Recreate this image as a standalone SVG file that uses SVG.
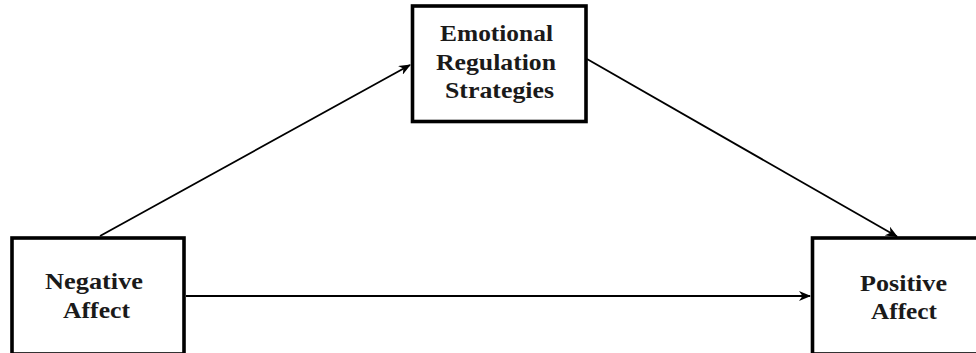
<svg xmlns="http://www.w3.org/2000/svg" width="976" height="353" viewBox="0 0 976 353">
<style>
.box{fill:#fff;stroke:#000;stroke-width:3.6}
.lbl{font-family:"Liberation Serif","Times New Roman",serif;font-weight:bold;font-size:23px;fill:#1a1a1a}
.edge{stroke:#000;stroke-width:1.8;fill:none}
</style>
<defs>
<marker id="arr" viewBox="0 0 12 10" refX="11" refY="5" markerWidth="12" markerHeight="10" markerUnits="userSpaceOnUse" orient="auto">
<path d="M0,0 L12,5 L0,10 L3.5,5 z" fill="#000"/>
</marker>
</defs>
<rect width="976" height="353" fill="#fff"/>
<g id="connectors">
<line class="edge" x1="100" y1="236" x2="410" y2="65" marker-end="url(#arr)"/>
<line class="edge" x1="587" y1="59" x2="897" y2="236.5" marker-end="url(#arr)"/>
<line class="edge" x1="186" y1="296" x2="810" y2="296" marker-end="url(#arr)"/>
</g>
<g id="node-emotional">
<rect class="box" x="412.5" y="6" width="173.5" height="115.5"/>
<text class="lbl" x="496.5" y="40.5" text-anchor="middle" textLength="113" lengthAdjust="spacingAndGlyphs">Emotional</text>
<text class="lbl" x="496" y="69.5" text-anchor="middle" textLength="120" lengthAdjust="spacingAndGlyphs">Regulation</text>
<text class="lbl" x="499.5" y="98" text-anchor="middle" textLength="109" lengthAdjust="spacingAndGlyphs">Strategies</text>
</g>
<g id="node-negative">
<rect class="box" x="12" y="238" width="172" height="116"/>
<text class="lbl" x="94" y="289" text-anchor="middle" textLength="98" lengthAdjust="spacingAndGlyphs">Negative</text>
<text class="lbl" x="96.5" y="318" text-anchor="middle" textLength="67" lengthAdjust="spacingAndGlyphs">Affect</text>
</g>
<g id="node-positive">
<rect class="box" x="812.5" y="238" width="182" height="116"/>
<text class="lbl" x="903.5" y="290.5" text-anchor="middle" textLength="87" lengthAdjust="spacingAndGlyphs">Positive</text>
<text class="lbl" x="904" y="319" text-anchor="middle" textLength="66" lengthAdjust="spacingAndGlyphs">Affect</text>
</g>
</svg>
